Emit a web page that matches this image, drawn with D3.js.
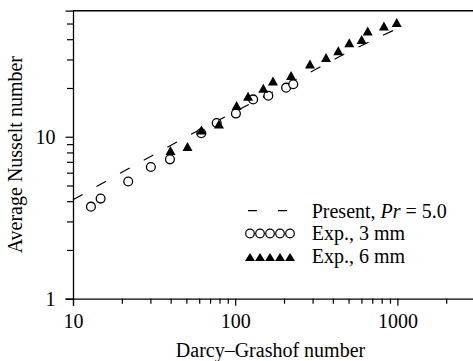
<!DOCTYPE html>
<html>
<head>
<meta charset="utf-8">
<script src="https://cdn.jsdelivr.net/npm/d3@7"></script>
<style>
  html, body { margin: 0; padding: 0; background: #fff; }
  svg { display: block; }
  text { font-family: "Liberation Serif", "Times New Roman", serif; fill: #000; }
</style>
</head>
<body>
<svg id="chart" width="473" height="361"></svg>
<script>
// Average Nusselt number vs Darcy–Grashof number (log–log)

// Present prediction, Pr = 5.0
const presentRa = [10, 20, 50, 100, 200, 500, 1000];
const presentNu = [4.08, 6.03, 10.0, 14.3, 20.5, 33.5, 46.6];

// Experiment, 3 mm beads
const exp3Ra = [12.9, 14.8, 21.9, 30.2, 39.6, 61.8, 76.9, 101, 129, 160, 206, 228];
const exp3Nu = [3.70, 4.15, 5.29, 6.50, 7.25, 10.5, 12.15, 13.9, 17.0, 17.9, 20.1, 21.1];

// Experiment, 6 mm beads
const exp6Ra = [39.9, 50.8, 61.9, 79.4, 102, 120, 149, 171, 221, 289, 363, 432, 505, 602, 656, 826, 990];
const exp6Nu = [8.22, 8.70, 11.0, 12.0, 15.6, 17.8, 19.9, 22.1, 23.9, 28.1, 30.9, 34.0, 38.0, 39.9, 44.9, 48.2, 50.8];

const xTickLabels = ["10", "100", "1000"];
const yTickLabels = ["1", "10"];
const legendLabels = ["Present, ", "Exp., 3 mm", "Exp., 6 mm"];

const svg = d3.select("#chart");
const plotLeft = 73, plotTop = 10.7, plotBottom = 298.7;

const x = d3.scaleLog().domain([10, 3000]).range([plotLeft, plotLeft + 162.2 * Math.log10(300)]);
const y = d3.scaleLog().domain([1, 60]).range([plotBottom, plotTop]);

const xMajor = xTickLabels.map(Number);
const yMajor = yTickLabels.map(Number);
const xMinor = [20, 30, 40, 50, 60, 70, 80, 90, 200, 300, 400, 500, 600, 700, 800, 900, 2000, 3000];
const yMinor = [2, 3, 4, 5, 6, 7, 8, 9, 20, 30, 40, 50];

// Axes: major ticks with labels, minor ticks without
const xAxis = svg.append("g").attr("transform", `translate(0,${plotBottom})`);
xAxis.call(d3.axisBottom(x).tickValues(xMajor).tickFormat(d3.format("d")).tickSize(7).tickPadding(8));
xAxis.append("g").call(d3.axisBottom(x).tickValues(xMinor).tickFormat("").tickSize(5))
  .select(".domain").remove();

const yAxis = svg.append("g").attr("transform", `translate(${plotLeft},0)`);
yAxis.call(d3.axisLeft(y).tickValues(yMajor).tickFormat(d3.format("d")).tickSize(7.5).tickPadding(10));
yAxis.append("g").call(d3.axisLeft(y).tickValues(yMinor).tickFormat("").tickSize(6))
  .select(".domain").remove();

svg.selectAll(".domain").attr("stroke", "#000").attr("stroke-width", 1.3);
svg.selectAll(".tick line").attr("stroke", "#000").attr("stroke-width", 1.2);
svg.selectAll(".tick text").attr("font-size", 20).style("font-family", "Liberation Serif, serif");

// frame line along the top
svg.append("line")
  .attr("x1", plotLeft).attr("x2", 473).attr("y1", plotTop).attr("y2", plotTop)
  .attr("stroke", "#000").attr("stroke-width", 1.5);

// Present prediction, dashed
const presentLine = d3.line().x(d => x(d[0])).y(d => y(d[1]));
svg.append("path")
  .datum(presentRa.map((r, i) => [r, presentNu[i]]))
  .attr("d", presentLine)
  .attr("fill", "none").attr("stroke", "#000").attr("stroke-width", 1.2)
  .attr("stroke-dasharray", "11,16");

// 3 mm: open circles
svg.append("g").selectAll("circle")
  .data(exp3Ra.map((r, i) => [r, exp3Nu[i]]))
  .join("circle")
  .attr("cx", d => x(d[0])).attr("cy", d => y(d[1])).attr("r", 4.4)
  .attr("fill", "#fff").attr("stroke", "#000").attr("stroke-width", 1.3);

// 6 mm: filled triangles
const tri = (cx, cy, s, h) => `M${cx - s / 2},${cy + h / 2}L${cx},${cy - h / 2}L${cx + s / 2},${cy + h / 2}Z`;
svg.append("g").selectAll("path")
  .data(exp6Ra.map((r, i) => [r, exp6Nu[i]]))
  .join("path")
  .attr("d", d => tri(x(d[0]), y(d[1]), 10, 9))
  .attr("fill", "#000");

// Legend
const lg = svg.append("g");
const lx = 311.7, rows = [217.5, 240.3, 263.1];
lg.append("line")
  .attr("x1", 248).attr("x2", 288).attr("y1", 210.7).attr("y2", 210.7)
  .attr("stroke", "#000").attr("stroke-width", 1.2).attr("stroke-dasharray", "9,21");
lg.selectAll("circle").data(d3.range(5)).join("circle")
  .attr("cx", i => 250 + i * 10).attr("cy", 233.5).attr("r", 4.3)
  .attr("fill", "none").attr("stroke", "#000").attr("stroke-width", 1.2);
lg.selectAll("path").data(d3.range(5)).join("path")
  .attr("d", i => tri(250 + i * 10, 257, 10, 8))
  .attr("fill", "#000");

const t0 = lg.append("text").attr("x", lx).attr("y", rows[0]).attr("font-size", 20);
t0.append("tspan").text(legendLabels[0]);
t0.append("tspan").attr("font-style", "italic").text("Pr");
t0.append("tspan").text(" = 5.0");
lg.append("text").attr("x", lx).attr("y", rows[1]).attr("font-size", 20).text(legendLabels[1]);
lg.append("text").attr("x", lx).attr("y", rows[2]).attr("font-size", 20).text(legendLabels[2]);

// Axis titles
svg.append("text")
  .attr("x", 270.5).attr("y", 356.5).attr("text-anchor", "middle").attr("font-size", 20)
  .text("Darcy–Grashof number");
svg.append("text")
  .attr("transform", `translate(21.5,${(plotTop + plotBottom) / 2}) rotate(-90)`)
  .attr("text-anchor", "middle").attr("font-size", 20)
  .text("Average Nusselt number");
</script>
</body>
</html>
